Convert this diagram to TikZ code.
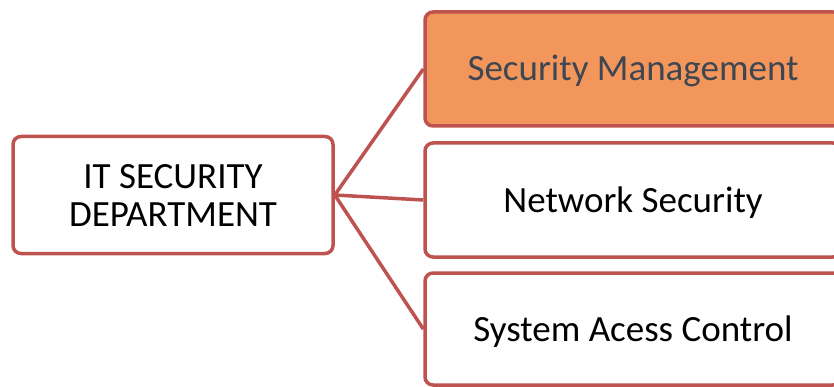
\documentclass[tikz,border=0pt]{standalone}
\usepackage{fontspec}
\setmainfont{Carlito}
\definecolor{edge}{RGB}{190,82,78}
\definecolor{orangefill}{RGB}{242,150,92}
\definecolor{darktext}{RGB}{62,70,82}
\begin{document}
\begin{tikzpicture}[x=1pt,y=-1pt,
  box/.style={draw=edge, line width=3.5pt, rounded corners=8pt, fill=white, inner sep=0pt, align=center, font=\fontsize{37}{38}\selectfont},
  single/.style={text height=25pt, text depth=1pt},
  link/.style={draw=edge, line width=3.5pt}]
\useasboundingbox (0,0) rectangle (834,387);
\clip (0,0) rectangle (834,387);
\node[box, minimum width=320pt, minimum height=117pt] (dept) at (173,195) {IT SECURITY\\DEPARTMENT};
\node[box, single, fill=orangefill, text=darktext, minimum width=416pt, minimum height=114pt] (mgmt) at (633,69) {Security Management};
\node[box, single, minimum width=416pt, minimum height=114pt] (net) at (633,200) {Network Security};
\node[box, single, minimum width=416pt, minimum height=112pt] (sys) at (633,329) {System Acess Control};
\draw[link] (dept.east) -- (mgmt.west);
\draw[link] (dept.east) -- (net.west);
\draw[link] (dept.east) -- (sys.west);
\end{tikzpicture}
\end{document}
